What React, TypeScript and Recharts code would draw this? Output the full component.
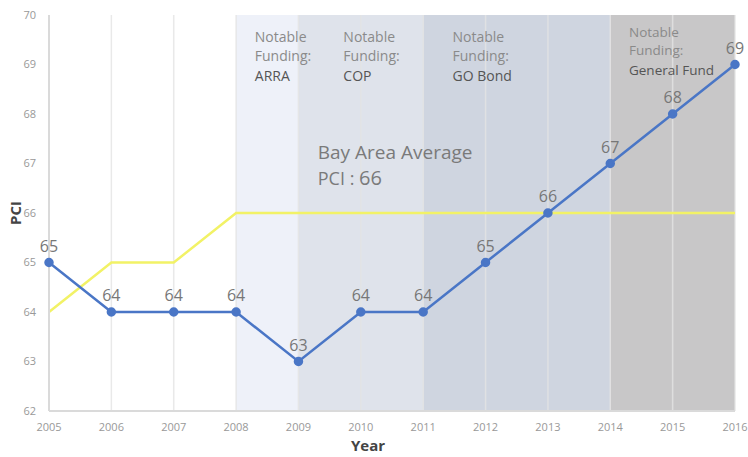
import { LineChart, Line, XAxis, YAxis, ReferenceArea, ReferenceLine, ReferenceDot, LabelList } from 'recharts';

const years = [2005, 2006, 2007, 2008, 2009, 2010, 2011, 2012, 2013, 2014, 2015, 2016];
const cityPci = [65, 64, 64, 64, 63, 64, 64, 65, 66, 67, 68, 69];
const bayAreaPci = [64, 65, 65, 66, 66, 66, 66, 66, 66, 66, 66, 66];
const yTicks = [62, 63, 64, 65, 66, 67, 68, 69, 70];

// funding periods and where their notes sit
const fundingStart = [2008, 2009, 2011, 2014];
const fundingEnd = [2009, 2011, 2014, 2016];
const fundingNames = ['ARRA', 'COP', 'GO Bond', 'General Fund'];
const fundingLabelX = [2008.3, 2009.72, 2011.47, 2014.3];
const fundingLabelY = [69.45, 69.45, 69.45, 69.55];
const fundingFill = ['#eef1f9', '#dfe3eb', '#cfd5e0', '#c8c7c8'];

const data = years.map((year, i) => ({ year, city: cityPci[i], bay: bayAreaPci[i] }));

const FONT = '"Open Sans", sans-serif';

const fundingLabel = (name: string, tight: boolean) => (props: any) => {
  const { x, y } = props.viewBox;
  return (
    <text x={x} y={y} fontFamily={FONT} fontSize={tight ? 13.5 : 14} fill="#8a8a8a">
      <tspan x={x} dy={0}>Notable</tspan>
      <tspan x={x} dy={tight ? 18 : 19}>Funding:</tspan>
      <tspan x={x} dy={20} fill="#555">{name}</tspan>
    </text>
  );
};

export default function App() {
  return (
    <div style={{ position: 'absolute', left: 0, top: 0, background: '#fff' }}>
      <LineChart width={748} height={457} data={data} margin={{ top: 15, right: 13, left: 0, bottom: 0 }}>
        {fundingStart.map((from, i) => (
          <ReferenceArea key={from} x1={from} x2={fundingEnd[i]} y1={62} y2={70} fill={fundingFill[i]} fillOpacity={1} stroke="none" />
        ))}
        {years.map(y => (
          <ReferenceLine key={y} x={y} stroke="#e4e4e4" strokeOpacity={0.8} strokeWidth={1.5} />
        ))}
        <XAxis
          dataKey="year"
          type="number"
          domain={[2005, 2016]}
          ticks={years}
          tickLine={false}
          tickSize={0}
          tickMargin={12}
          axisLine={{ stroke: '#dadada', strokeWidth: 2 }}
          tick={{ fontSize: 11, fill: '#999', fontFamily: FONT }}
          height={46}
          label={{ value: 'Year', position: 'insideBottom', offset: 6, dx: -24, fontSize: 15, fontWeight: 'bold', fill: '#444', fontFamily: FONT }}
        />
        <YAxis
          type="number"
          domain={[62, 70]}
          ticks={yTicks}
          width={49}
          tickLine={false}
          tickSize={0}
          tickMargin={13}
          axisLine={{ stroke: '#dadada', strokeWidth: 2 }}
          tick={{ fontSize: 11, fill: '#999', fontFamily: FONT }}
          label={{
            content: (p: any) => {
              const vb = p.viewBox;
              const cx = vb.x + 15;
              const cy = vb.y + vb.height / 2;
              return (
                <text x={cx} y={cy} transform={`rotate(-90 ${cx} ${cy})`} textAnchor="middle" dominantBaseline="central" fontFamily={FONT} fontSize={15} fontWeight="bold" fill="#444">
                  PCI
                </text>
              );
            },
          }}
        />
        {fundingNames.map((name, i) => (
          <ReferenceDot key={name} x={fundingLabelX[i]} y={fundingLabelY[i]} r={0} fill="none" stroke="none" label={{ content: fundingLabel(name, i === 3) }} />
        ))}
        <ReferenceDot
          x={2009.31}
          y={67.1}
          r={0}
          fill="none"
          stroke="none"
          label={{
            content: (p: any) => {
              const { x, y } = p.viewBox;
              return (
                <text x={x} y={y} fontFamily={FONT} fill="#7a7a7a">
                  <tspan x={x} dy={0} fontSize={19}>Bay Area Average</tspan>
                  <tspan x={x} dy={26} fontSize={18}>PCI : </tspan>
                  <tspan fontSize={20}>66</tspan>
                </text>
              );
            },
          }}
        />
        <Line dataKey="bay" stroke="#f2f266" strokeWidth={2.5} dot={false} isAnimationActive={false} />
        <Line dataKey="city" stroke="#4a76c6" strokeWidth={2.5} dot={{ r: 3.5, fill: '#4a76c6', stroke: '#4a76c6' }} isAnimationActive={false}>
          <LabelList dataKey="city" position="top" offset={11} fontSize={16} fill="#777" fontFamily={FONT} />
        </Line>
      </LineChart>
    </div>
  );
}
